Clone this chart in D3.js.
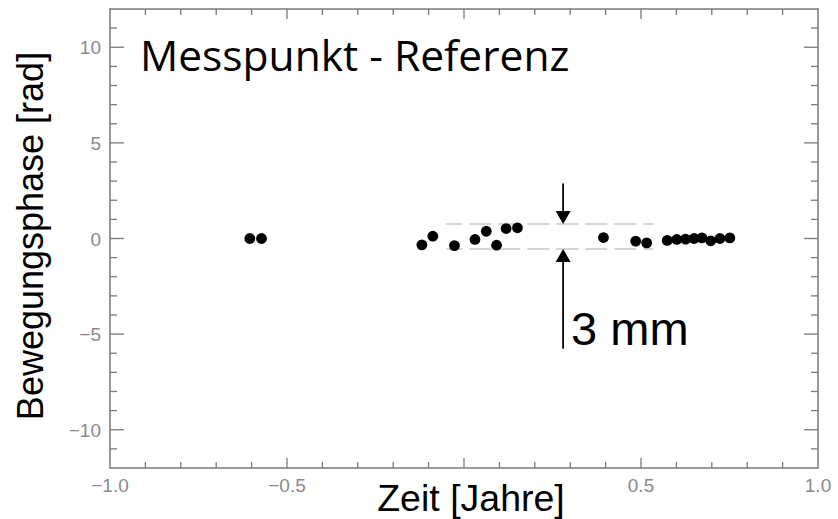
<!DOCTYPE html>
<html><head><meta charset="utf-8">
<script src="https://cdn.jsdelivr.net/npm/d3@7"></script>
<style>body{margin:0;background:#fff}svg{display:block}</style>
</head><body>
<svg id="c" width="838" height="519"></svg>
<script>
// data
const timeYears = [-0.605, -0.572, -0.119, -0.088, -0.027, 0.031, 0.063, 0.092, 0.119, 0.151,
  0.394, 0.485, 0.516, 0.574, 0.601, 0.626, 0.650, 0.672, 0.697, 0.723, 0.751];
const phaseRad = [0.0, 0.0, -0.33, 0.12, -0.37, -0.05, 0.38, -0.35, 0.52, 0.56,
  0.05, -0.14, -0.23, -0.1, -0.05, -0.03, 0.0, 0.03, -0.12, 0.0, 0.03];
const xTickValues = [-1.0, -0.5, 0.5, 1.0];
const yTickValues = [-10, -5, 0, 5, 10];
const bandTop = 0.76, bandBottom = -0.55, bandStart = -0.05, bandEnd = 0.535;
const arrowX = 0.28, arrowTopStart = 2.88, arrowBottomEnd = -5.76;

const svg = d3.select("#c");
const x = d3.scaleLinear().domain([-1, 1]).range([110, 818]);
const y = d3.scaleLinear().domain([-12, 12]).range([468, 9]);
const axisCol = "#7a7a7a";
const fmt = v => (v < 0 ? "\u2212" : "") + Math.abs(v).toFixed(1);

// frame
svg.append("rect").attr("x", x(-1)).attr("y", y(12)).attr("width", x(1) - x(-1)).attr("height", y(-12) - y(12))
  .attr("fill", "none").attr("stroke", axisCol).attr("stroke-width", 1.5);

// ticks
const xMinor = d3.range(-9, 10).map(d => d / 10);
const yMinor = d3.range(-11, 12);
const gT = svg.append("g").attr("stroke", axisCol).attr("stroke-width", 1.3);
xMinor.forEach(v => {
  const L = Math.abs(v * 2 - Math.round(v * 2)) < 1e-6 ? 10 : 6;
  gT.append("line").attr("x1", x(v)).attr("x2", x(v)).attr("y1", y(-12)).attr("y2", y(-12) - L);
  gT.append("line").attr("x1", x(v)).attr("x2", x(v)).attr("y1", y(12)).attr("y2", y(12) + L);
});
yMinor.forEach(v => {
  const L = v % 5 === 0 ? 14 : 7;
  gT.append("line").attr("y1", y(v)).attr("y2", y(v)).attr("x1", x(-1)).attr("x2", x(-1) + L);
  gT.append("line").attr("y1", y(v)).attr("y2", y(v)).attr("x1", x(1)).attr("x2", x(1) - L);
});

// tick labels
svg.append("g").selectAll("text").data(xTickValues).join("text")
  .attr("x", d => x(d)).attr("y", 492).attr("text-anchor", "middle")
  .attr("font-family", "Liberation Sans, Arial, sans-serif").attr("font-size", 19).attr("fill", "#8a8a8a")
  .text(fmt);
svg.append("g").selectAll("text").data(yTickValues).join("text")
  .attr("x", 101).attr("y", d => y(d) + 7).attr("text-anchor", "end")
  .attr("font-family", "Liberation Sans, Arial, sans-serif").attr("font-size", 19).attr("fill", "#8a8a8a")
  .text(d => (d < 0 ? "\u2212" : "") + Math.abs(d));

// dashed band
[bandTop, bandBottom].forEach(v => {
  svg.append("line").attr("x1", x(bandStart)).attr("x2", x(bandEnd)).attr("y1", y(v)).attr("y2", y(v))
    .attr("stroke", "#c8c8c8").attr("stroke-width", 1.5).attr("stroke-dasharray", "22,7").attr("stroke-dashoffset", 6);
});

// points
svg.append("g").selectAll("circle").data(timeYears).join("circle")
  .attr("cx", d => x(d)).attr("cy", (d, i) => y(phaseRad[i])).attr("r", 5.4).attr("fill", "#000");

// arrows
const ax = x(arrowX);
const ah = 13, aw = 7.5;
svg.append("line").attr("x1", ax).attr("x2", ax).attr("y1", y(arrowTopStart)).attr("y2", y(bandTop) - ah + 1)
  .attr("stroke", "#000").attr("stroke-width", 1.8);
svg.append("path").attr("d", `M${ax - aw},${y(bandTop) - ah}L${ax + aw},${y(bandTop) - ah}L${ax},${y(bandTop)}Z`).attr("fill", "#000");
svg.append("line").attr("x1", ax).attr("x2", ax).attr("y1", y(bandBottom) + ah - 1).attr("y2", y(arrowBottomEnd))
  .attr("stroke", "#000").attr("stroke-width", 1.8);
svg.append("path").attr("d", `M${ax - aw},${y(bandBottom) + ah}L${ax + aw},${y(bandBottom) + ah}L${ax},${y(bandBottom)}Z`).attr("fill", "#000");
svg.append("text").attr("x", ax + 8).attr("y", 345)
  .attr("font-family", "Liberation Sans, Arial, sans-serif").attr("font-size", 47).attr("fill", "#000").text("3 mm");

// title & axis labels
svg.append("text").attr("x", 140).attr("y", 71)
  .attr("font-family", "Open Sans, Noto Sans, sans-serif").attr("font-size", 42.5).attr("fill", "#000").text("Messpunkt - Referenz");
svg.append("text").attr("x", 471).attr("y", 511).attr("text-anchor", "middle")
  .attr("font-family", "Liberation Sans, Arial, sans-serif").attr("font-size", 37.5).attr("fill", "#000").text("Zeit [Jahre]");
svg.append("text").attr("transform", "translate(43,236) rotate(-90)").attr("text-anchor", "middle")
  .attr("font-family", "Liberation Sans, Arial, sans-serif").attr("font-size", 36).attr("fill", "#000").text("Bewegungsphase [rad]");
</script>
</body></html>
